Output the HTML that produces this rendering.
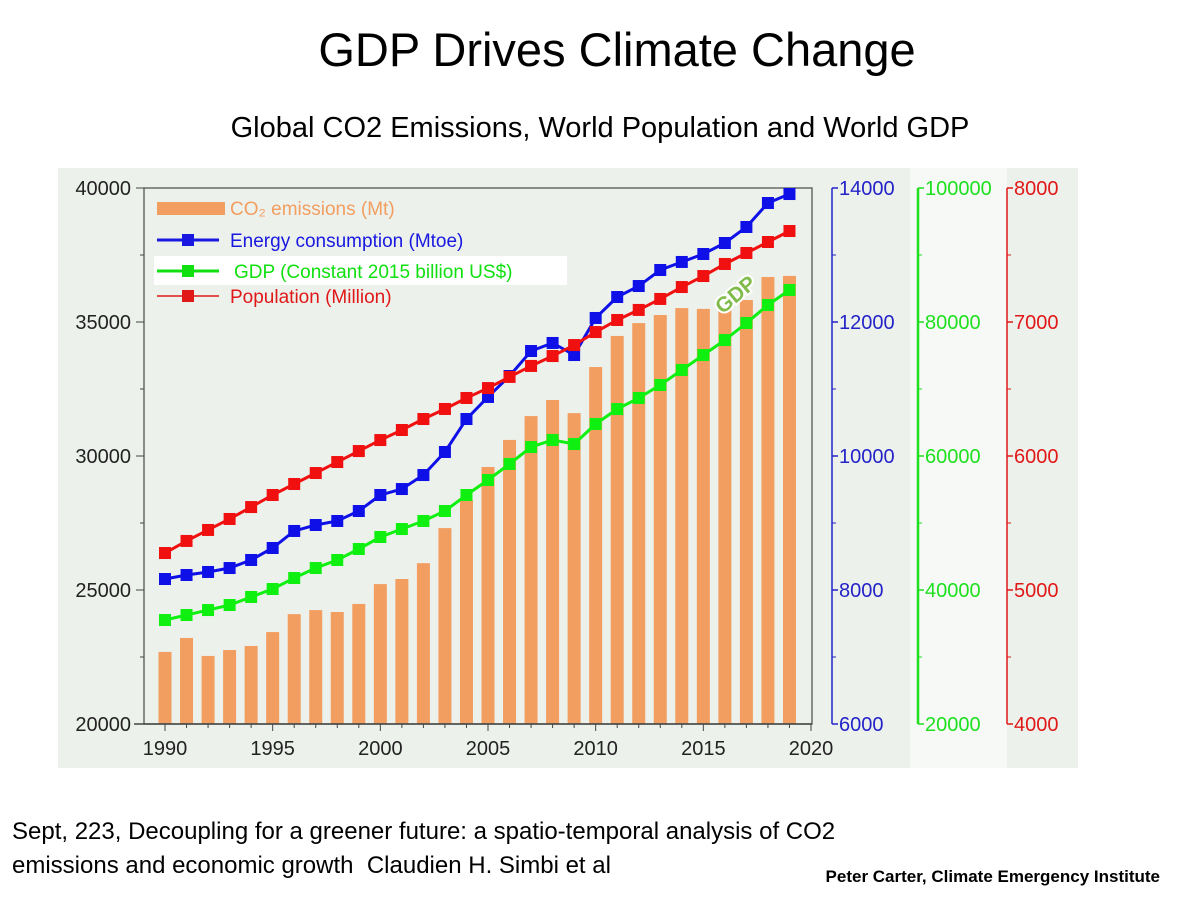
<!DOCTYPE html>
<html><head><meta charset="utf-8"><style>
body{margin:0;background:#fff;width:1200px;height:900px;overflow:hidden;font-family:"Liberation Sans",sans-serif}
.t{position:absolute;white-space:nowrap}
</style></head><body>
<div class="t" style="left:0;width:1234px;text-align:center;top:22px;font-size:47px;color:#000">GDP Drives Climate Change</div>
<div class="t" style="left:0;width:1200px;text-align:center;top:112px;font-size:29px;color:#000">Global CO2 Emissions, World Population and World GDP</div>
<svg id="c" width="1200" height="900" style="position:absolute;left:0;top:0" xmlns="http://www.w3.org/2000/svg"></svg>
<div class="t" style="left:12px;top:818px;font-size:24px;color:#000">Sept, 223, Decoupling for a greener future: a spatio-temporal analysis of CO2</div>
<div class="t" style="left:12px;top:852px;font-size:24px;color:#000">emissions and economic growth &nbsp;Claudien H. Simbi et al</div>
<div class="t" style="right:40px;top:867px;font-size:17px;font-weight:bold;color:#000">Peter Carter, Climate Emergency Institute</div>
<script>
const years=[1990,1991,1992,1993,1994,1995,1996,1997,1998,1999,2000,2001,2002,2003,2004,2005,2006,2007,2008,2009,2010,2011,2012,2013,2014,2015,2016,2017,2018,2019];
const co2=[22690,23210,22540,22760,22910,23430,24100,24250,24180,24480,25220,25410,26000,27310,28360,29590,30600,31490,32090,31600,33320,34480,34960,35260,35520,35490,35450,35820,36680,36720];
const energy=[8164,8224,8269,8328,8448,8627,8881,8970,9030,9179,9418,9507,9716,10060,10552,10881,11194,11567,11687,11507,12060,12373,12537,12776,12896,13015,13179,13418,13776,13910];
const gdp=[35520,36270,37010,37760,38960,40150,41790,43280,44480,46120,47910,49100,50300,51790,54180,56420,58810,61340,62390,61790,64780,67010,68660,70600,72840,75070,77310,79850,82540,84780];
const population=[5276,5366,5448,5530,5619,5709,5791,5873,5955,6037,6119,6194,6276,6351,6433,6507,6590,6672,6746,6828,6925,7015,7090,7172,7261,7343,7433,7515,7597,7679];
const xTicks=[1990,1995,2000,2005,2010,2015,2020];
const leftTicks=[20000,25000,30000,35000,40000];
const energyTicks=[6000,8000,10000,12000,14000];
const gdpTicks=[20000,40000,60000,80000,100000];
const popTicks=[4000,5000,6000,7000,8000];

const NS="http://www.w3.org/2000/svg",svg=document.getElementById('c');
function el(t,a,p){const e=document.createElementNS(NS,t);for(const k in a)e.setAttribute(k,a[k]);(p||svg).appendChild(e);return e;}
const T=188,B=724;
const x=y=>165+(y-1990)*(811-165)/30;
const lin=(lo,hi)=>v=>B-(v-lo)/(hi-lo)*(B-T);
const yL=lin(20000,40000),yE=lin(6000,14000),yG=lin(20000,100000),yP=lin(4000,8000);

let r;
r=el('rect',{x:58,y:168,width:1020,height:600,fill:'#edf1ec'});

r=el('rect',{x:910,y:168,width:97,height:600,fill:'#f7f9f7'});


co2.forEach((v,i)=>{const b=el('rect',{x:x(years[i])-6.5,y:yL(v),width:13,height:B-yL(v),fill:'#f29e61'});

});

r=el('rect',{x:144,y:T,width:668,height:B-T,fill:'none',stroke:'#555','stroke-width':1.3});

el('line',{x1:134,y1:B,x2:812,y2:B,stroke:'#444','stroke-width':1.5});

leftTicks.forEach(v=>{el('line',{x1:136,x2:144,y1:yL(v),y2:yL(v),stroke:'#444'});
const t=el('text',{x:131,y:yL(v)+7,'text-anchor':'end','font-size':20,fill:'#222'});t.textContent=v;
});
[22500,27500,32500,37500].forEach(v=>el('line',{x1:140,x2:144,y1:yL(v),y2:yL(v),stroke:'#444'}));
for(let yr=1990;yr<=2020;yr++){el('line',{x1:x(yr),x2:x(yr),y1:B,y2:B+(yr%5?4:7),stroke:'#444'});}
xTicks.forEach(v=>{const t=el('text',{x:x(v),y:B+31,'text-anchor':'middle','font-size':20,fill:'#222'});t.textContent=v;
});

function rAxis(ax,ticks,sc,col,name){
 el('line',{x1:ax,x2:ax,y1:T,y2:B,stroke:col,'stroke-width':name=='gdp'?2.5:1.5});
 ticks.forEach((v,i)=>{el('line',{x1:ax,x2:ax+6,y1:sc(v),y2:sc(v),stroke:col,'stroke-width':1.5});
  const t=el('text',{x:ax+7,y:sc(v)+7,'font-size':20,fill:col});t.textContent=v;
  
  if(i<ticks.length-1){const m=(v+ticks[i+1])/2;el('line',{x1:ax,x2:ax+4,y1:sc(m),y2:sc(m),stroke:col});}});
}
rAxis(832,energyTicks,yE,'#2323c8','energy');
rAxis(918,gdpTicks,yG,'#1ee01e','gdp');
rAxis(1007,popTicks,yP,'#e01818','population');

function series(vals,sc,col,name){
 const pts=vals.map((v,i)=>x(years[i])+','+sc(v)).join(' ');
 const l=el('polyline',{points:pts,fill:'none',stroke:col,'stroke-width':3});
 
 vals.forEach((v,i)=>{const m=el('rect',{x:x(years[i])-6,y:sc(v)-6,width:12,height:12,fill:col});
 
 });
}
series(energy,yE,'#0f10e8','energy');
series(population,yP,'#f01010','population');
series(gdp,yG,'#10f010','gdp');

const g=el('text',{x:0,y:0,transform:'translate(740,300) rotate(-40)','text-anchor':'middle','font-size':21,'font-weight':'bold',fill:'#80bb4c',stroke:'#fff','stroke-width':4,'paint-order':'stroke'});
g.textContent='GDP';

el('rect',{x:157,y:202,width:68,height:13,fill:'#f29e61'});
el('rect',{x:154,y:256,width:413,height:29,fill:'#fff'});
const leg=[['CO\u2082 emissions (Mt)','#f29e61',215,'co2'],['Energy consumption (Mtoe)','#1818e0',247,'energy'],['GDP (Constant 2015 billion US$)','#10e010',278,'gdp'],['Population (Million)','#e01818',303,'population']];
leg.forEach((d,i)=>{
 if(i>0){const yy=d[2]-7;el('line',{x1:157,x2:219,y1:yy,y2:yy,stroke:d[1],'stroke-width':i==3?1.5:3});
  el('rect',{x:182,y:yy-6,width:12,height:12,fill:d[1]});}
 const t=el('text',{x:i==2?234:230,y:d[2],'font-size':19,fill:d[1]});t.textContent=d[0];
 
});
</script>
</body></html>
